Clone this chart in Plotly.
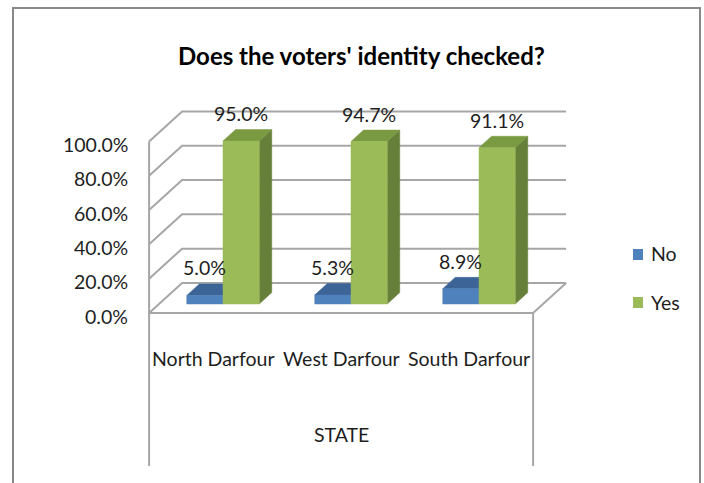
import plotly.graph_objects as go

# ---- data -----------------------------------------------------------------
states = ["North Darfour", "West Darfour", "South Darfour"]
no_pct = [5.0, 5.3, 8.9]
yes_pct = [95.0, 94.7, 91.1]
series_names = ["No", "Yes"]
y_ticks = [0, 20, 40, 60, 80, 100]
tick_text = ["0.0%", "20.0%", "40.0%", "60.0%", "80.0%", "100.0%"]
axis_title = "STATE"
chart_title = "Does the voters' identity checked?"

# ---- styling --------------------------------------------------------------
FONT = "Lato"
TEXT_COLOR = "#1e1e1e"
GRID_COLOR = "#a6a6a6"
FRAME_COLOR = "#898989"
faces = {
    "No": {"front": "#4f81bd", "top": "#3c6496", "side": "#385d8a"},
    "Yes": {"front": "#9bbb59", "top": "#7a9a42", "side": "#66803a"},
}

W, H = 704, 483
# hidden linear axes: one category step and one percent point in pixels
PX_PER_CAT = 128.0
PX_PER_PCT = 1.716
ORIGIN_PX = (223.0, 304.0)
x_range = [-ORIGIN_PX[0] / PX_PER_CAT, (W - ORIGIN_PX[0]) / PX_PER_CAT]
y_range = [(ORIGIN_PX[1] - H) / PX_PER_PCT, ORIGIN_PX[1] / PX_PER_PCT]

# oblique projection of the 3-D box (depth d runs 0 = front .. 1 = back)
DEPTH_DX = 33.0 / PX_PER_CAT
DEPTH_DY = 30.0 / PX_PER_PCT
BAR_D0, BAR_D1 = 0.30, 0.68
BAR_W = 0.283
LEFT_X, RIGHT_X = -0.5, len(states) - 0.5
BOX_BOTTOM = (ORIGIN_PX[1] - 466) / PX_PER_PCT
LABEL_LIFT = 16.0


def proj(x, v, d):
    return x + (d - BAR_D0) * DEPTH_DX, v + (d - BAR_D0) * DEPTH_DY


def poly(points):
    xs, ys = zip(*[proj(*p) for p in points])
    return list(xs) + [xs[0]], list(ys) + [ys[0]]


fig = go.Figure()


def add_lines(segments, color, width):
    xs, ys = [], []
    for seg in segments:
        for p in seg:
            px, py = proj(*p) if len(p) == 3 else p
            xs.append(px)
            ys.append(py)
        xs.append(None)
        ys.append(None)
    fig.add_trace(go.Scatter(x=xs, y=ys, mode="lines", hoverinfo="skip",
                             line=dict(color=color, width=width), showlegend=False))


# walls and floor outlines
top_v = y_ticks[-1]
grid = [[(LEFT_X, t, 0), (LEFT_X, t, 1), (RIGHT_X, t, 1)] for t in y_ticks]
fl_x, fl_y = proj(LEFT_X, 0, 0)
fr_x, fr_y = proj(RIGHT_X, 0, 0)
frame = [
    [(LEFT_X, top_v, 0), (LEFT_X, 0, 0), (RIGHT_X, 0, 0), (RIGHT_X, 0, 1)],
    [(fl_x, fl_y), (fl_x, BOX_BOTTOM)],
    [(fr_x, fr_y), (fr_x, BOX_BOTTOM)],
]
add_lines(grid, GRID_COLOR, 2)
add_lines(frame, GRID_COLOR, 2)


def add_face(points, color):
    xs, ys = poly(points)
    fig.add_trace(go.Scatter(x=xs, y=ys, mode="lines", fill="toself", fillcolor=color,
                             line=dict(color=color, width=0.5), hoverinfo="skip",
                             showlegend=False))


annotations = []
for i, state in enumerate(states):
    for name, vals, x0 in (("No", no_pct, i - BAR_W), ("Yes", yes_pct, i)):
        v = vals[i]
        x1 = x0 + BAR_W
        c = faces[name]
        add_face([(x1, 0, BAR_D0), (x1, v, BAR_D0), (x1, v, BAR_D1), (x1, 0, BAR_D1)], c["side"])
        add_face([(x0, v, BAR_D0), (x1, v, BAR_D0), (x1, v, BAR_D1), (x0, v, BAR_D1)], c["top"])
        add_face([(x0, 0, BAR_D0), (x1, 0, BAR_D0), (x1, v, BAR_D0), (x0, v, BAR_D0)], c["front"])
        annotations.append(dict(x=(x0 + x1) / 2, y=v + LABEL_LIFT, text=f"{v:.1f}%",
                                showarrow=False, xanchor="center", yanchor="middle",
                                font=dict(family=FONT, size=19.5, color=TEXT_COLOR)))
    cx, _ = proj(i, 0, 0)
    annotations.append(dict(x=cx, y=-31.5, text=state, showarrow=False,
                            xanchor="center", yanchor="middle",
                            font=dict(family=FONT, size=19.5, color=TEXT_COLOR)))

# value axis labels on the front plane
for t, lab in zip(y_ticks, tick_text):
    tx, ty = proj(LEFT_X, t, 0)
    annotations.append(dict(x=tx, y=ty, text=lab, showarrow=False, xanchor="right",
                            yanchor="middle", xshift=-19, yshift=-3,
                            font=dict(family=FONT, size=19.5, color=TEXT_COLOR)))

cx, _ = proj((len(states) - 1) / 2, 0, 0)
annotations.append(dict(x=cx, y=-76.3, text=axis_title, showarrow=False,
                        xanchor="center", yanchor="middle",
                        font=dict(family=FONT, size=19.5, color=TEXT_COLOR)))
annotations.append(dict(xref="paper", yref="paper", x=361 / W, y=1 - 55 / H,
                        text=f"<b>{chart_title}</b>", showarrow=False,
                        xanchor="center", yanchor="middle",
                        font=dict(family=FONT, size=24, color="#000000")))

# legend
shapes = [dict(type="rect", xref="paper", yref="paper", x0=13 / W, x1=700 / W,
               y0=-0.05, y1=1 - 8 / H, line=dict(color=FRAME_COLOR, width=2),
               fillcolor="rgba(0,0,0,0)", layer="below")]
for k, name in enumerate(series_names):
    cy = 254 + 48 * k
    shapes.append(dict(type="rect", xref="paper", yref="paper", x0=633 / W, x1=643 / W,
                       y0=1 - (cy + 6) / H, y1=1 - (cy - 5) / H,
                       fillcolor=faces[name]["front"], line=dict(width=0)))
    annotations.append(dict(xref="paper", yref="paper", x=649 / W, y=1 - cy / H,
                            text=name, showarrow=False, xanchor="left", yanchor="middle",
                            font=dict(family=FONT, size=19.5, color=TEXT_COLOR)))

fig.update_layout(
    width=W, height=H, autosize=False,
    margin=dict(l=0, r=0, t=0, b=0, pad=0),
    paper_bgcolor="white", plot_bgcolor="white",
    xaxis=dict(range=x_range, visible=False, fixedrange=True),
    yaxis=dict(range=y_range, visible=False, fixedrange=True),
    showlegend=False,
    annotations=annotations,
    shapes=shapes,
)

fig.write_html("out.html")
